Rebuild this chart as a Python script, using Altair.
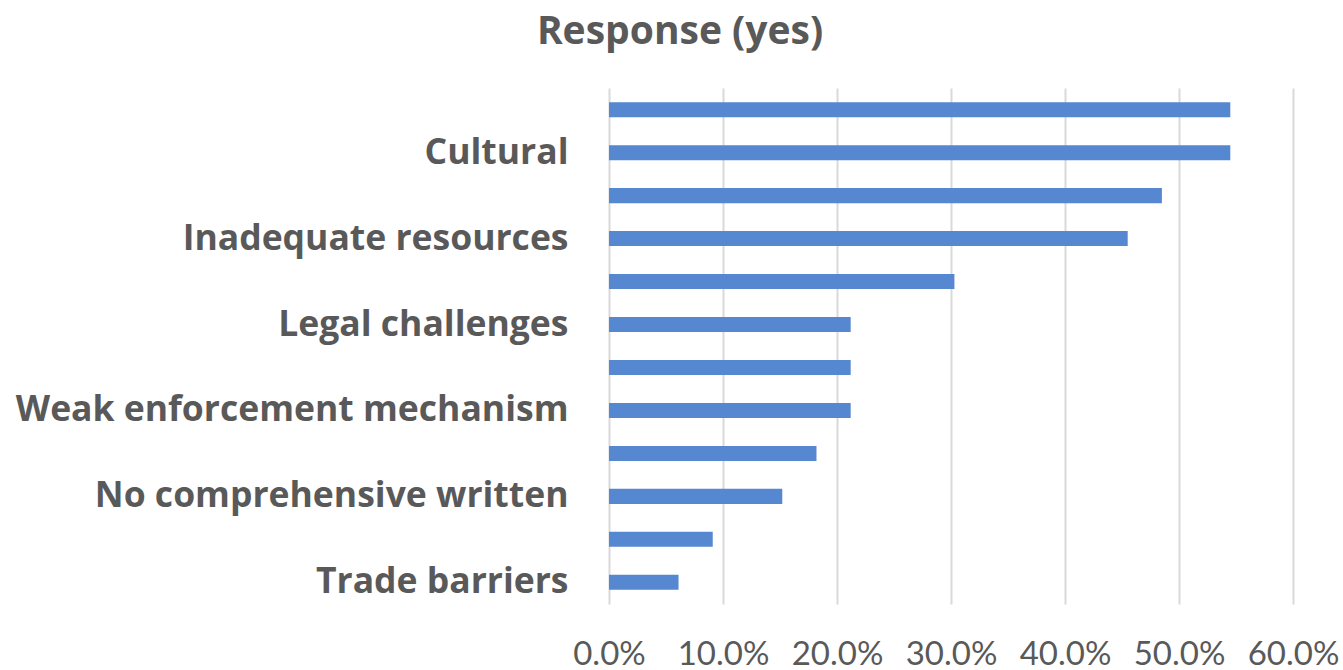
import altair as alt
import pandas as pd

categories = ["_1", "Cultural", "_3", "Inadequate resources", "_5",
              "Legal challenges\u2002", "_7", "Weak enforcement mechanism", "_9",
              "No comprehensive written", "_11", "Trade barriers"]
values = [0.545, 0.545, 0.485, 0.455, 0.303, 0.212, 0.212, 0.212, 0.182, 0.152, 0.091, 0.061]
x_ticks = [0, 0.1, 0.2, 0.3, 0.4, 0.5, 0.6]

df = pd.DataFrame({"category": categories, "value": values})

FONT = "Open Sans"
GREY = "#595959"

chart = alt.Chart(df).mark_bar(color="#5687d1").encode(
    y=alt.Y("category:N", sort=None, title=None,
            scale=alt.Scale(paddingInner=0.65, paddingOuter=0.33),
            axis=alt.Axis(labelExpr="substring(datum.label,0,1)=='_' ? '' : datum.label",
                          labelFont=FONT, labelFontSize=35.5, labelFontWeight="bold",
                          labelColor=GREY, labelPadding=41, ticks=False, domain=False,
                          labelLimit=700)),
    x=alt.X("value:Q", title=None,
            scale=alt.Scale(domain=[0, 0.6], nice=False),
            axis=alt.Axis(values=x_ticks, format=".1%", labelFont="Lato", labelFontSize=33,
                          labelColor=GREY, labelPadding=34, ticks=False, domain=False,
                          labelOverlap=False, labelFlush=False,
                          grid=True, gridColor="#d9d9d9", gridWidth=2))
).properties(
    width=684, height=516,
    title=alt.TitleParams("Response (yes)", font=FONT, fontSize=39, fontWeight="bold",
                          color=GREY, anchor="middle", dx=-271, offset=36),
    autosize=alt.AutoSizeParams(type="none"),
    padding={"left": 609, "top": 88, "right": 50, "bottom": 66}
).configure_view(stroke=None)

chart.save("out.html", embed_options={"renderer": "svg", "actions": False})
